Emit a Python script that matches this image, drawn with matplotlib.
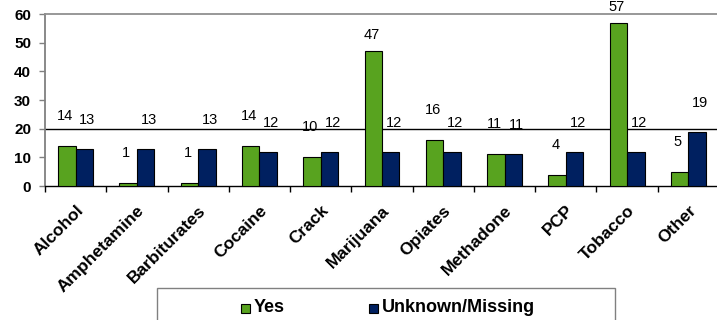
import matplotlib
matplotlib.use("Agg")
import matplotlib.pyplot as plt
from matplotlib.patches import Rectangle
import numpy as np

categories = ["Alcohol", "Amphetamine", "Barbiturates", "Cocaine", "Crack",
              "Marijuana", "Opiates", "Methadone", "PCP", "Tobacco", "Other"]
yes_vals = [14, 1, 1, 14, 10, 47, 16, 11, 4, 57, 5]
unk_vals = [13, 13, 13, 12, 12, 12, 12, 11, 12, 12, 19]
series_names = ["Yes", "Unknown/Missing"]
yticks = [0, 10, 20, 30, 40, 50, 60]

GREEN = "#58A31F"
NAVY = "#002060"

plt.rcParams['font.family'] = ['Liberation Sans', 'DejaVu Sans']

fig = plt.figure(figsize=(7.17, 3.2), dpi=100)
W, H = 717, 320
ax = fig.add_axes([45 / W, (H - 186) / H, 674 / W, 172 / H])

n = len(categories)
x = np.arange(n) + 0.5
bw = 0.285
ax.bar(x - bw / 2, yes_vals, bw, color=GREEN, edgecolor="black", linewidth=0.8, zorder=3)
ax.bar(x + bw / 2, unk_vals, bw, color=NAVY, edgecolor="black", linewidth=0.8, zorder=3)

ax.set_xlim(0, n)
ax.set_ylim(0, 60)
ax.axhline(20, color="black", linewidth=1.0, zorder=2)

# data labels
for xi, v in zip(x, yes_vals):
    off = 30 if v < 40 else 16
    ax.annotate(str(v), (xi - bw / 2 - 0.03, v), xytext=(0, off * 0.72), textcoords="offset points",
                ha="center", va="center", fontsize=10.5, annotation_clip=False, zorder=4)
for xi, v in zip(x, unk_vals):
    ax.annotate(str(v), (xi + bw / 2 + 0.05, v), xytext=(0, 29 * 0.72), textcoords="offset points",
                ha="center", va="center", fontsize=10.5, annotation_clip=False, zorder=4)

# spines
ax.spines["right"].set_visible(False)
ax.spines["top"].set_color("#909090")
ax.spines["top"].set_linewidth(1.3)
ax.spines["left"].set_color("#808080")
ax.spines["left"].set_linewidth(1.3)
ax.spines["bottom"].set_color("black")
ax.spines["bottom"].set_linewidth(1.0)

ax.set_yticks(yticks)
ax.set_yticklabels([str(t) for t in yticks], fontsize=11, fontweight="bold")
ax.tick_params(axis="y", direction="out", length=4, color="#808080", width=1.0, pad=6)

ax.set_xticks(np.arange(n + 1))
ax.set_xticklabels([])
ax.tick_params(axis="x", which="major", direction="out", length=4, color="black", width=1.0)
ax.set_xticks(x, minor=True)
ax.set_xticklabels(categories, minor=True, rotation=45, ha="right", va="top",
                   rotation_mode="anchor", fontsize=12.5, fontweight="bold")
ax.tick_params(axis="x", which="minor", length=0, pad=12)

# legend box (manual)
fig.patches.append(Rectangle((157 / W, -0.05), (615 - 157) / W, (H - 288) / H + 0.05,
                             transform=fig.transFigure, facecolor="white",
                             edgecolor="#808080", linewidth=1.0))
sq = 9
for (lx, tx, label, col) in [(241, 254, series_names[0], GREEN), (369, 382, series_names[1], NAVY)]:
    fig.patches.append(Rectangle((lx / W, (H - 308 - sq / 2) / H), sq / W, sq / H,
                                 transform=fig.transFigure, facecolor=col,
                                 edgecolor="black", linewidth=0.8))
    fig.text(tx / W, (H - 308) / H, label, fontsize=13, fontweight="bold",
             ha="left", va="center")

fig.savefig("out.png", dpi=100)
